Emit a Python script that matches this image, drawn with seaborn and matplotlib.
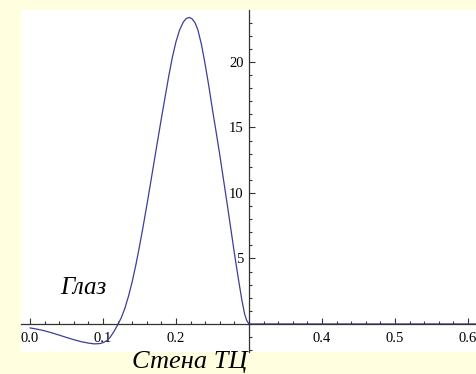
import pandas as pd
import seaborn as sns
import matplotlib.pyplot as plt
from matplotlib.ticker import MultipleLocator, FixedLocator

# values
x_vals = [0.000, 0.010, 0.020, 0.030, 0.040, 0.050, 0.060, 0.070, 0.080, 0.088,
          0.095, 0.100, 0.105, 0.110, 0.115, 0.120, 0.125, 0.130, 0.135, 0.140,
          0.145, 0.150, 0.155, 0.160, 0.165, 0.170, 0.175, 0.180, 0.185, 0.190,
          0.195, 0.200, 0.205, 0.210, 0.214, 0.218, 0.222, 0.226, 0.230, 0.235,
          0.240, 0.245, 0.250, 0.255, 0.260, 0.265, 0.270, 0.275, 0.280, 0.285,
          0.290, 0.294, 0.297, 0.300, 0.400, 0.500, 0.612]
y_vals = [-0.30, -0.40, -0.52, -0.68, -0.85, -1.03, -1.20, -1.35, -1.46, -1.52,
          -1.50, -1.43, -1.28, -1.00, -0.58, -0.08, 0.47, 1.20, 2.13, 3.23,
          4.50, 5.93, 7.45, 9.05, 10.70, 12.38, 14.05, 15.70, 17.30, 18.90,
          20.35, 21.55, 22.45, 23.05, 23.32, 23.40, 23.30, 23.00, 22.45, 21.30,
          19.80, 18.15, 16.35, 14.65, 12.90, 11.05, 9.20, 7.30, 5.40, 3.60,
          1.90, 0.75, 0.25, 0.00, 0.00, 0.00, 0.00]
x_ticks = [0.0, 0.1, 0.2, 0.4, 0.5, 0.6]
x_labels = ['0.0', '0.1', '0.2', '0.4', '0.5', '0.6']
y_ticks = [5, 10, 15, 20]
y_labels = ['5', '10', '15', '20']

df = pd.DataFrame({'x': x_vals, 'y': y_vals})

sns.set_style('white')
plt.rcParams['font.family'] = ['Liberation Serif', 'DejaVu Serif']
plt.rcParams['text.color'] = 'black'
plt.rcParams['xtick.color'] = 'black'
plt.rcParams['ytick.color'] = 'black'

fig = plt.figure(figsize=(4.77, 3.74), dpi=100, facecolor='#FFFFE0')
ax = fig.add_axes([21 / 477, 22 / 374, 456 / 477, 342 / 374])
ax.set_facecolor('white')

sns.lineplot(data=df, x='x', y='y', ax=ax, color='#3D3D99', linewidth=0.9,
             sort=False, estimator=None)

ax.set_xlim(-0.0123, 0.6123)
ax.set_ylim(-2.14, 23.97)

# Mathematica-style axes crossing at (0.3, 0)
for s in ['top', 'right']:
    ax.spines[s].set_visible(False)
ax.spines['left'].set_position(('data', 0.3))
ax.spines['bottom'].set_position(('data', 0))
for s in ['left', 'bottom']:
    ax.spines[s].set_color('#333333')
    ax.spines[s].set_linewidth(0.9)

ax.xaxis.set_major_locator(FixedLocator(x_ticks))
ax.set_xticklabels(x_labels)
ax.xaxis.set_minor_locator(MultipleLocator(0.02))
ax.yaxis.set_major_locator(FixedLocator(y_ticks))
ax.set_yticklabels(y_labels)
ax.yaxis.set_minor_locator(MultipleLocator(1))

ax.tick_params(axis='both', which='both', direction='in', color='#333333',
               labelsize=10.5, labelcolor='black', width=0.8)
ax.tick_params(axis='both', which='major', length=4)
ax.tick_params(axis='both', which='minor', length=2.3)
ax.tick_params(axis='x', which='both', bottom=True, pad=6)
ax.tick_params(axis='y', which='both', left=True, pad=4)
ax.set_xlabel('')
ax.set_ylabel('')

ax.text(0.0726, 2.3, 'Глаз', fontsize=18, style='italic', ha='center',
        va='baseline', color='black')
fig.text(190 / 477, 6 / 374, 'Стена ТЦ', fontsize=19, style='italic',
         ha='center', va='baseline', color='black')

fig.savefig('out.png', dpi=100, facecolor=fig.get_facecolor())
